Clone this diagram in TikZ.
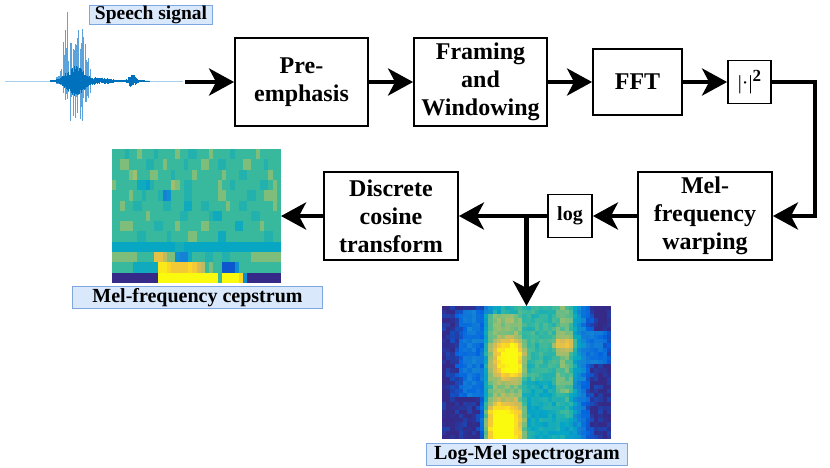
\documentclass[tikz,border=0pt]{standalone}
\usepackage{fontspec}
\setmainfont{Liberation Serif}
\usetikzlibrary{arrows.meta,calc}
\definecolor{lblfill}{HTML}{DAE8FC}
\definecolor{lbldraw}{HTML}{7EA6E0}
\definecolor{wavedark}{HTML}{0072BD}
\definecolor{wavelight}{HTML}{5BA3DA}
\definecolor{wavebase}{HTML}{A8D0EE}
\def\Rl{{53,3,20,6,56,146,217,252,249,249}}
\def\Gl{{42,99,129,167,185,191,186,206,251,251}}
\def\Bl{{135,225,214,198,158,115,86,46,14,14}}
\newcommand{\hmcolor}[1]{%
  \pgfmathsetmacro{\hmv}{max(0,min(0.999,#1))*8}%
  \pgfmathtruncatemacro{\hmi}{\hmv}%
  \pgfmathtruncatemacro{\hmj}{\hmi+1}%
  \pgfmathsetmacro{\hmt}{\hmv-\hmi}%
  \pgfmathtruncatemacro{\hmr}{\Rl[\hmi]+\hmt*(\Rl[\hmj]-\Rl[\hmi])}%
  \pgfmathtruncatemacro{\hmg}{\Gl[\hmi]+\hmt*(\Gl[\hmj]-\Gl[\hmi])}%
  \pgfmathtruncatemacro{\hmb}{\Bl[\hmi]+\hmt*(\Bl[\hmj]-\Bl[\hmi])}%
  \definecolor{hc}{RGB}{\hmr,\hmg,\hmb}}
\tikzset{
  blk/.style={draw, line width=1.8pt, align=center, inner sep=0pt,
    font=\fontsize{24}{28}\selectfont\bfseries},
  lbl/.style={draw=lbldraw, fill=lblfill, line width=0.9pt, inner sep=0pt,
    font=\fontsize{20}{24}\selectfont\bfseries},
  arr/.style={line width=4.5pt, -{Stealth[length=25pt, width=27pt, inset=7pt]}},
  imgbox/.style={inner sep=0pt, outer sep=0pt},
  wavestyle/.style={line width=0.4pt},
}
\begin{document}
\begin{tikzpicture}[x=1pt,y=-1pt]
\useasboundingbox (0,0) rectangle (830,467);
\pgfmathsetseed{11}
% ---------- speech waveform ----------
\draw[wavebase, line width=0.6pt] (5,81) -- (183,81);
% pitch pulses (tall light spikes)
\foreach \k in {0,...,14} {
  \pgfmathsetmacro\wx{56+2.4*\k+0.4*rand}
  \pgfmathsetmacro\wa{76*exp(-min(10,((\wx-75)/13)^4))*(0.3+0.7*rnd)+3}
  \pgfmathsetmacro\wb{46*exp(-min(10,((\wx-77)/12)^4))*(0.3+0.7*rnd)+3}
  \pgfmathsetmacro\wc{76*exp(-min(10,((\wx-75)/13)^4))*(0.2+0.5*rnd)+3}
  \pgfmathsetmacro\wd{46*exp(-min(10,((\wx-77)/12)^4))*(0.2+0.5*rnd)+3}
  \draw[wavelight, line width=0.5pt] (\wx,{81-\wa}) -- (\wx,{81+\wb});
  \draw[wavelight, line width=0.5pt] ({\wx+0.9},{81-\wc}) -- ({\wx+0.9},{81+\wd});
}
% dense core
\foreach \i in {0,...,330} {
  \pgfmathsetmacro\wx{50+\i*0.3}
  \pgfmathsetmacro\wa{15*exp(-min(10,(\wx-75)*(\wx-75)/140))*(0.3+0.7*rnd)+3*exp(-min(10,(\wx-100)*(\wx-100)/200))*rnd+6*exp(-min(10,(\wx-132)*(\wx-132)/25))*rnd+0.5}
  \pgfmathsetmacro\wb{15*exp(-min(10,(\wx-75)*(\wx-75)/140))*(0.3+0.7*rnd)+3*exp(-min(10,(\wx-100)*(\wx-100)/200))*rnd+6*exp(-min(10,(\wx-132)*(\wx-132)/25))*rnd+0.5}
  \draw[wavedark, wavestyle] (\wx,{81-\wa}) -- (\wx,{81+\wb});
}
\coordinate (wend) at (185,82);
% ---------- MFCC heat map ----------
\node[imgbox, minimum width=169pt, minimum height=134pt] (mfimg) at (196.5,216) {};
\begin{scope}
\clip (112,149) rectangle (281,283);
\foreach \rowdata [count=\r from 0] in {
 {5,5,5,4.5,5,5,6,5,5,5, 4.5,5,5,5,5,6,5,5,4.5,4.5, 5,5,5,6,5,5,5,5,4.5,5, 5,5,5,5,6,5,5,5,5,5},
 {5,5,6,6,5,5,5,5,4.5,4.5, 5,5,6,5,5,5,5,4.5,5,5, 5,6,6,5,5,4.5,4.5,5,5,5, 5,6,6,5,5,5,4.5,5,5,5},
 {5,5,5,5,6,6.5,5,5,5,6, 6,5,5,5,4.5,5,5,5,5,6, 5,5,5,5,5,5,6,5,5,5, 4.5,4.5,5,5,5,5,5,6,5,5},
 {6,5,5,5,5,5,4,4,3.5,4.5, 5,5,5,5,6.5,6,5,4.5,4.5,5, 5,5,5,5,5,6,5,5,4.5,5, 5,5,5,5,5,4.5,4.5,5,6,5},
 {5,5,5,5,6,5,5,4.5,5,5, 5,4.5,2.5,3,5,5,5,4.5,4.5,5, 5,5,5,5,5,6,6,5,5,5, 5,5,4.5,4.5,5,5,6,6,6,5},
 {5,5,6,5,5,4.5,4.5,5,5,5, 5,5,4.5,4.5,5,5,5,4,4,5, 5,4.5,4.5,5,5,5,5,6,5,5, 4.5,4.5,5,5,5,5,5,5,6,5},
 {5,5,5,5,5,5,5,5,6,5, 5,5,5,5,5,5,4.5,4.5,5,5, 5,5,5,4.5,4,4,5,5,5,5, 5,5,5,4.5,4.5,5,5,5,5,5},
 {5,5,6,6,6,5,5,5,5,5, 4.5,4.5,5,5,5,6,5,5,5,5, 5,6,6,5,5,5,5,5,5,4, 4,5,5,5,5,6,5,5,5,5},
 {5,5,5,5,5,5,4.5,4.5,5,5, 5,5,5,4.5,5,5,5,5,6,6, 5,5,5,5,5,4,4,5,5,5, 5,5,5,5,5,5,4.5,4.5,5,5},
 {3.8,3.8,3.8,3.8,3.8,3.8,3.8,3.8,3.8,3.8, 3.8,3.8,3.8,3.8,3.8,4.2,4.2,3.8,3.8,3.8, 3.8,3.8,3.8,3.8,3.8,3.8,3.8,3.8,3.8,3.8, 3.8,3.8,3.8,3.8,3.8,3.8,3.8,3.8,3.8,3.8},
 {6,6,6,6,6,6,5,5,5,5, 8,8,7,6,6,3,2.5,2.5,4,5, 5,5,4.5,4.5,5,5,4.5,4.5,5,5, 5,5,5,6,6,6,6,6,6,6},
 {5,5,5,5,5,4,4,4,4,4, 4,9.5,9.5,9,8.5,8.5,8.5,8.5,9,8.5, 7.5,7,5,6,5,5,1,1,1,3, 5,5,5,5,5,5,5,5,5,5},
 {0,0,0,0,0,0,0,0,0,0, 0,10,10,10,10,10,10,10,10,10, 10,10,10,10,10,5,10,10,10,10, 9,3,0,0,0,0,0,0,0,0}} {
  \foreach \d [count=\c from 0] in \rowdata {
    \hmcolor{\d/10}
    \fill[hc] ({112+\c*4.225},{149+\r*10.308}) rectangle ++(4.35,10.45);
  }
}
\end{scope}
% ---------- Log-Mel heat map ----------
\node[imgbox, minimum width=169pt, minimum height=133pt] (lmimg) at (526.5,372.5) {};
\begin{scope}
\clip (442,306) rectangle (611,439);
\foreach \c in {0,...,39} {
  \foreach \r in {0,...,31} {
    \pgfmathsetmacro\hu{(\c+0.5)/40}
    \pgfmathsetmacro\hw{1-(\r+0.5)/32}
    \pgfmathsetmacro\da{(\hu-0.56)*(\hu-0.56)/0.085}
    \pgfmathsetmacro\lmb{(0.4+0.08*(\hw>0.45))*exp(-min(10,\da*\da*\da))+0.22*exp(-min(10,(\hu-0.17)*(\hu-0.17)/0.006))*(\hw>0.3)*(\hw<0.97)+0.2*exp(-min(10,(\hu-0.92)*(\hu-0.92)/0.004))*(\hw>0.55)*(\hw<0.8)}
    \pgfmathsetmacro\db{(\hu-0.38)*(\hu-0.38)/0.0169}
    \pgfmathsetmacro\ea{(\hw-0.1)*(\hw-0.1)/0.03}
    \pgfmathsetmacro\eb{(\hw-0.6)*(\hw-0.6)/0.02}
    \pgfmathsetmacro\ua{(\hu-0.35)*(\hu-0.35)/0.02}
    \pgfmathsetmacro\ub{(\hu-0.41)*(\hu-0.41)/0.012}
    \pgfmathsetmacro\lmm{exp(-min(10,\db*\db*\db))*(0.62+0.5*exp(-min(10,\ea*\ea))*exp(-min(10,\ua))+0.45*exp(-min(10,\eb*\eb))*exp(-min(10,\ub)))*(1-0.35*(\hw>0.93))}
    \pgfmathsetmacro\dc{(\hu-0.72)*(\hu-0.72)/0.0064}
    \pgfmathsetmacro\lms{exp(-min(10,\dc*\dc))*(0.47+0.1*(\hw>0.35)+0.25*exp(-min(10,(\hw-0.72)*(\hw-0.72)/0.003)))*(1-0.2*(\hw<0.15))}
    \pgfmathsetmacro\lmv{max(\lmb,\lmm,\lms)+0.06*rand}
    \hmcolor{\lmv}
    \fill[hc] ({442+\c*4.225},{306+\r*4.156}) rectangle ++(4.35,4.3);
  }
}
\end{scope}
% ---------- labels ----------
\node[lbl, minimum width=123pt, minimum height=19pt, font=\fontsize{19.5}{22}\selectfont\bfseries] (sp) at (151,14.5) {Speech signal};
\node[lbl, minimum width=250pt, minimum height=22pt] (mflab) at (197.5,297.5) {Mel-frequency cepstrum};
\node[lbl, minimum width=201pt, minimum height=22pt] (lmlab) at (527,454.5) {Log-Mel spectrogram};
% ---------- blocks ----------
\node[blk, minimum width=133pt, minimum height=88pt] (pre) at (301.5,82) {Pre-\\emphasis};
\node[blk, minimum width=133pt, minimum height=88pt] (fram) at (480.5,82) {Framing\\and\\Windowing};
\node[blk, minimum width=89pt, minimum height=66pt] (fft) at (637.5,82) {FFT};
\node[blk, minimum width=43pt, minimum height=43pt, font=\fontsize{20}{24}\selectfont] (abs) at (749.5,82) {|·|\raisebox{8pt}{\fontsize{17}{17}\selectfont\bfseries 2}};
\node[blk, minimum width=134pt, minimum height=88pt] (mel) at (705,216) {Mel-\\frequency\\warping};
\node[blk, minimum width=44pt, minimum height=43pt, font=\fontsize{20}{24}\selectfont\bfseries] (logb) at (570,216) {log};
\node[blk, minimum width=134pt, minimum height=88pt] (dct) at (391,216) {Discrete\\cosine\\transform};
% ---------- connectors ----------
\coordinate (rc) at (815,82);
\coordinate (br) at (526.5,216);
\draw[arr] (wend) -- (pre.west);
\draw[arr] (pre.east) -- (fram.west);
\draw[arr] (fram.east) -- (fft.west);
\draw[arr] (fft.east) -- (abs.west);
\draw[arr] (abs.east) -- (rc) |- (mel.east);
\draw[arr] (mel.west) -- (logb.east);
\draw[arr] (logb.west) -- (dct.east);
\draw[arr] (br) -- (lmimg.north);
\draw[arr] (dct.west) -- (mfimg.east);
\end{tikzpicture}
\end{document}
